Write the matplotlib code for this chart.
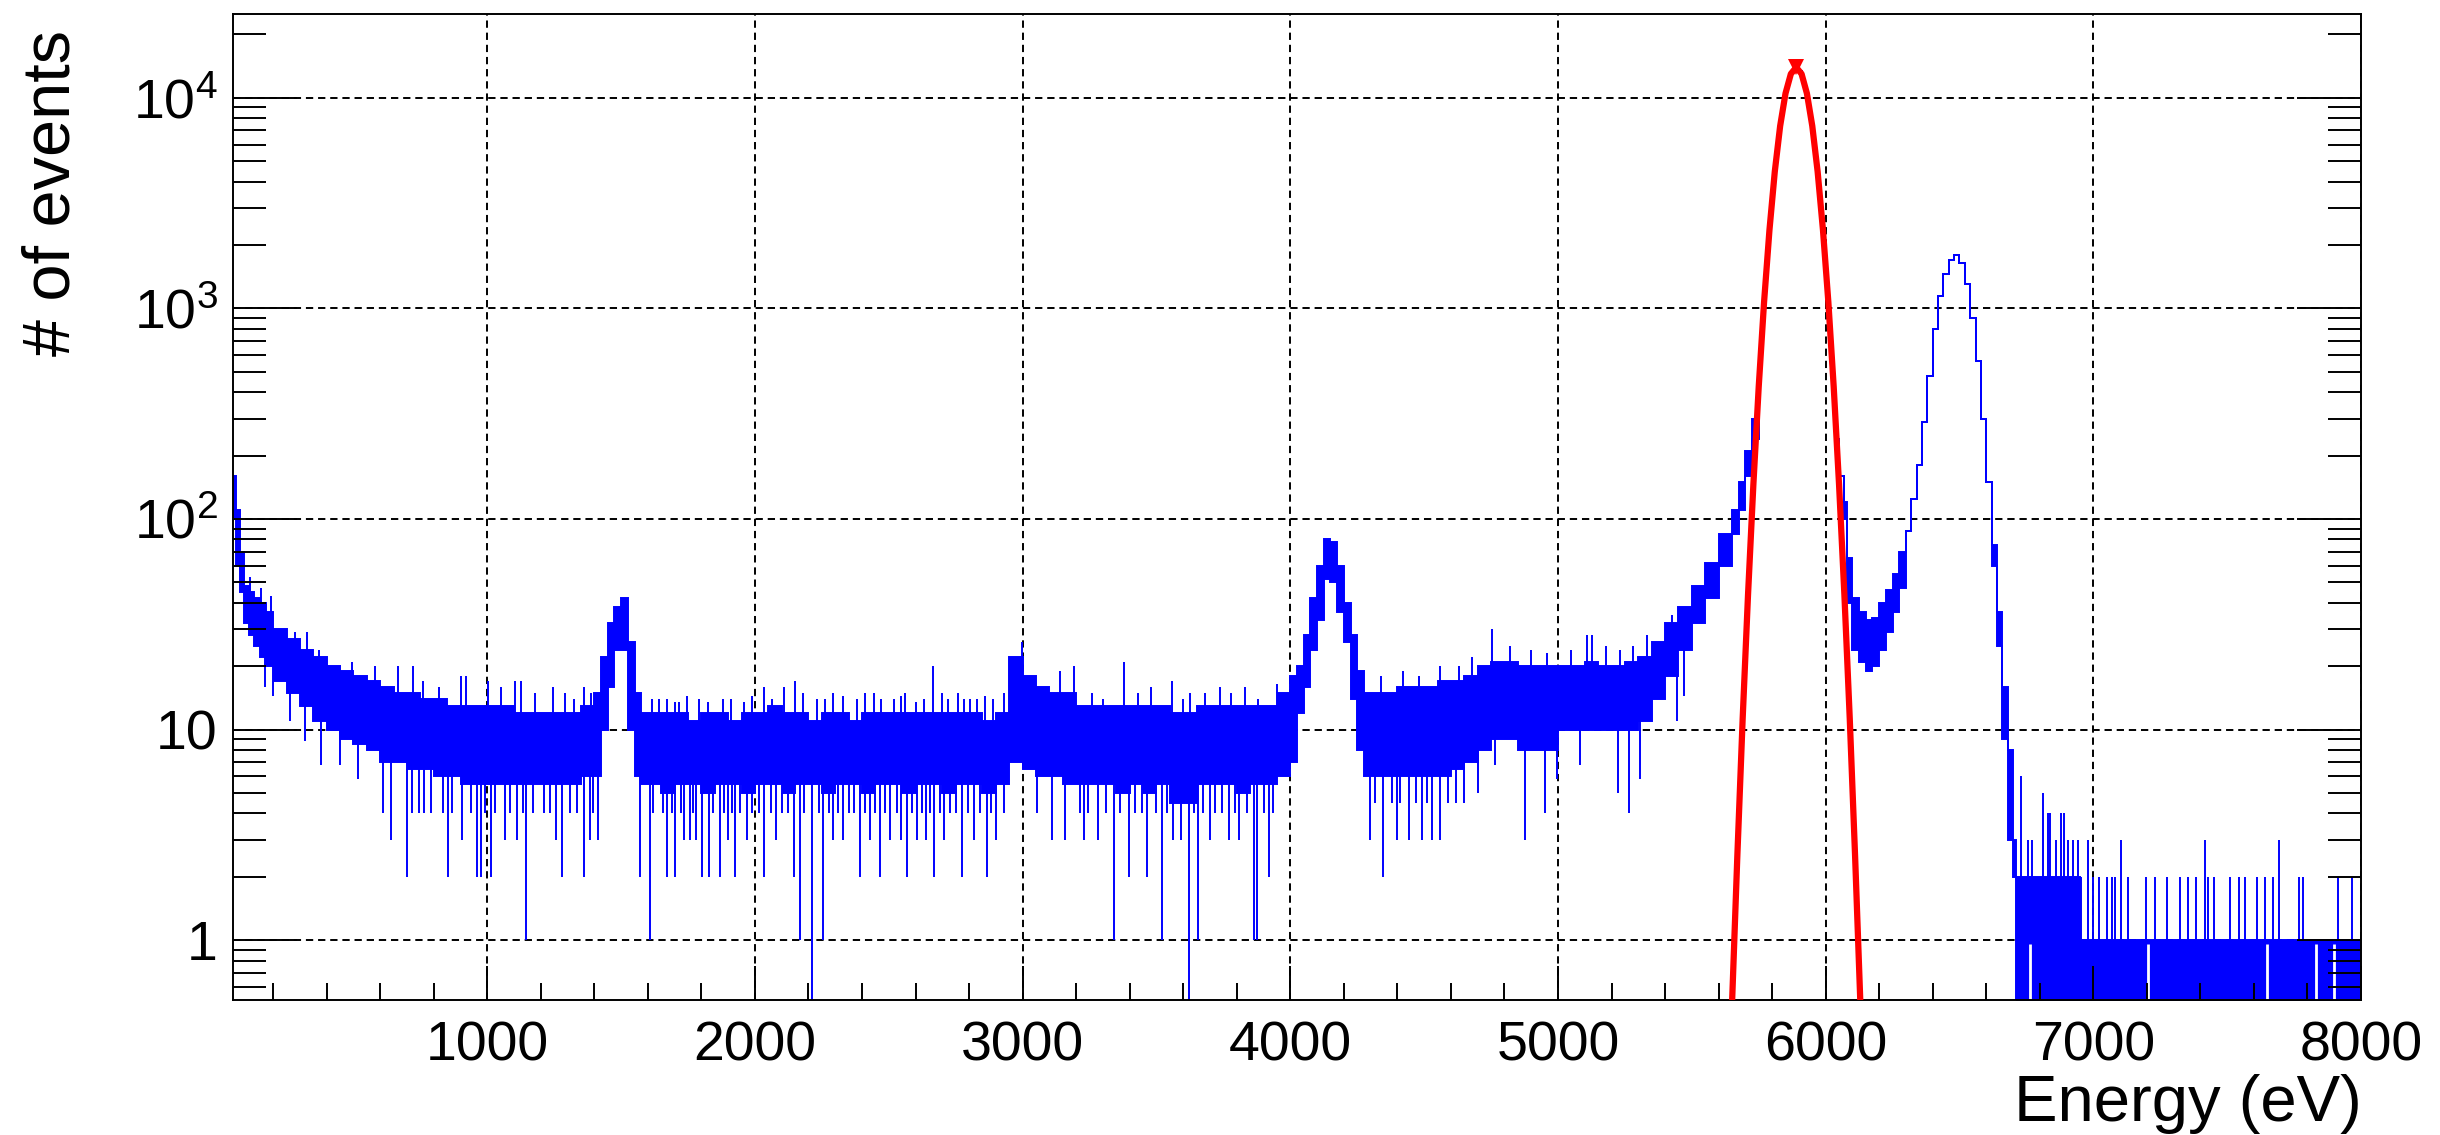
import numpy as np
import matplotlib.pyplot as plt
from matplotlib.ticker import NullFormatter

plt.rcParams['font.family'] = ['Liberation Sans', 'DejaVu Sans']
plt.rcParams['mathtext.fontset'] = 'custom'
plt.rcParams['mathtext.rm'] = 'Liberation Sans'
plt.rcParams['mathtext.it'] = 'Liberation Sans:italic'
plt.rcParams['mathtext.bf'] = 'Liberation Sans:bold'

# ---- data ----
# bin edges (eV), finer binning around the peaks
bin_edges = ([50, 60, 75, 90, 110, 130, 150, 175]
             + list(range(200, 1400, 50))
             + list(range(1400, 1600, 25))
             + list(range(1600, 4000, 50))
             + list(range(4000, 4300, 25))
             + list(range(4300, 5650, 50))
             + list(range(5650, 5750, 25))
             + list(range(5750, 6050, 10))
             + [6050, 6070, 6080]
             + list(range(6100, 6300, 25))
             + list(range(6300, 6700, 20))
             + [6700, 6712, 6750, 6950, 8000])

# upper edge of the noise band in each bin (counts)
counts_high = [160, 110, 70, 48, 45, 42, 40, 36,
               30, 27, 24, 22, 20, 19, 18, 17, 16, 15, 15, 14, 14, 13, 13, 13,
               13, 13, 12, 12, 12, 12, 12, 13,
               15, 22, 32, 38, 42, 26, 15, 12,
               12, 12, 12, 11, 12, 12, 11, 12, 12, 13, 12, 12, 11, 12, 12, 11,
               12, 12, 12, 12, 12, 12, 12, 12, 12, 11, 12,
               22, 18, 16, 15, 15, 13, 13, 13, 13, 13, 13, 13, 12, 12, 13, 13,
               13, 13, 13, 13, 15,
               18, 20, 28, 42, 60, 80, 78, 60, 40, 28, 19, 15,
               15, 15, 16, 16, 16, 17, 17, 18, 20, 21, 21, 20, 20, 20, 20, 20,
               21, 20, 20, 21, 22, 26, 32, 38, 48, 62, 85,
               110, 150, 210, 300,
               544, 865, 1325, 1960, 2800, 3860, 5130, 6580, 8140, 9730,
               11200, 12500, 13400, 13900, 13900, 13400, 12500, 11200, 9730, 8140,
               6580, 5130, 3860, 2800, 1960, 1325, 865, 544, 360, 240,
               160, 120, 65,
               42, 36, 33, 34, 40, 46, 55, 70,
               88, 125, 180, 290, 480, 800, 1150, 1450, 1700, 1800, 1650, 1300,
               900, 560, 300, 150, 75, 36, 16, 8,
               3, 2, 2, 1]

# lower edge of the noise band in each bin (counts, 0 = empty bins)
counts_low = [100, 60, 45, 32, 28, 25, 22, 20,
              17, 15, 13, 11, 10, 9, 8.5, 8, 7, 7, 6.5, 6.5, 6, 6, 5.5, 5.5,
              5.5, 5.5, 5.5, 5.5, 5.5, 5.5, 5.5, 6,
              6, 10, 16, 24, 24, 10, 6, 5.5,
              5.5, 5, 5.5, 5.5, 5, 5.5, 5.5, 5, 5.5, 5.5, 5, 5.5, 5.5, 5,
              5.5, 5.5, 5, 5.5, 5.5, 5, 5.5, 5.5, 5, 5.5, 5.5, 5, 5.5,
              7, 6.5, 6, 6, 5.5, 5.5, 5.5, 5.5, 5, 5.5, 5, 5.5, 4.5, 4.5,
              5.5, 5.5, 5.5, 5, 5.5, 5.5, 6,
              7, 12, 16, 24, 33, 52, 50, 36, 26, 14, 8, 6,
              6, 6, 6, 6, 6, 6, 6.5, 7, 8, 9, 9, 8, 8, 8, 10, 10,
              10, 10, 10, 10, 11, 14, 18, 24, 32, 42, 60,
              85, 110, 160, 240,
              544, 865, 1325, 1960, 2800, 3860, 5130, 6580, 8140, 9730,
              11200, 12500, 13400, 13900, 13900, 13400, 12500, 11200, 9730, 8140,
              6580, 5130, 3860, 2800, 1960, 1325, 865, 544, 360, 240,
              160, 100, 40,
              24, 21, 19, 20, 24, 29, 36, 47,
              88, 125, 180, 290, 480, 800, 1150, 1450, 1700, 1800, 1650, 1300,
              900, 560, 300, 150, 60, 25, 9, 3,
              2, 0, 0, 0]

# single bins sticking out above the band
spike_energy = [115, 153, 193, 280, 328, 370, 495, 579, 666, 722, 760, 820,
                900, 922, 1002, 1050, 1102, 1127, 1180, 1245, 1290, 1324, 1360, 1388,
                1615, 1640, 1671, 1700, 1715, 1745, 1790, 1825, 1880, 1910, 1960,
                1990, 2035, 2065, 2107, 2151, 2180, 2230, 2260, 2290, 2330, 2380,
                2410, 2443, 2470, 2520, 2545, 2561, 2600, 2630, 2665, 2700, 2720,
                2760, 2780, 2804, 2829, 2860, 2890, 2930,
                2998, 3141, 3191, 3260, 3300, 3377, 3430, 3480, 3558, 3600, 3626,
                3680, 3738, 3780, 3832, 3880, 3950,
                4340, 4420, 4480, 4560, 4629, 4680, 4753, 4820, 4900, 4960, 5050,
                5108, 5127, 5180, 5230, 5280, 5332, 5426,
                6731, 6757, 6770, 6812, 6830, 6840, 6860, 6878, 6891, 6905, 6925,
                6942, 6955, 6981,
                7000, 7020, 7050, 7070, 7080, 7103, 7130, 7195, 7230, 7275, 7325,
                7355, 7385, 7417,
                7430, 7450, 7510, 7545, 7565, 7612, 7640, 7670, 7692, 7770, 7785,
                7915, 7965]
spike_top = [53, 47, 43, 29, 29, 24, 21, 20, 20, 20, 17, 16,
             18, 18, 17, 16, 17, 17, 15, 16, 15, 14, 16, 15,
             14, 14, 14, 13.5, 13.5, 14.5, 14, 13.5, 14, 14, 13.5,
             14.5, 16, 14, 16, 17, 15, 14, 14, 15, 14.5, 14,
             15, 15, 14, 14, 14.5, 15, 13.5, 14, 20, 15, 14,
             15, 14, 14, 14, 14.5, 14, 15,
             26, 19, 20, 15, 14, 21, 15, 16, 17, 14, 15,
             15, 16, 15, 16, 14, 16.5,
             18, 19, 18, 20, 20, 22, 30, 25, 24, 23, 24,
             28, 28, 25, 24, 25, 28, 35,
             6, 3, 3, 5, 4, 4, 3, 4, 4, 3, 3,
             3, 2, 3,
             2, 2, 2, 2, 2, 3, 2, 2, 2, 2, 2,
             2, 2, 3,
             2, 2, 2, 2, 2, 2, 2, 2, 3, 2, 2,
             2, 2]

# single bins dropping below the band (0 = empty bin)
dip_energy = [168, 200, 262, 318, 378, 448, 517, 610, 639, 701, 763, 853,
              905, 960, 975, 1015, 1065, 1112, 1146, 1258, 1279, 1361, 1382, 1413,
              720, 745, 790, 835, 870, 940, 990, 1030, 1085, 1135, 1170, 1210,
              1235, 1310, 1335, 1395,
              1572, 1609, 1671, 1702, 1735, 1758, 1780, 1802, 1827, 1871, 1900,
              1927, 1971, 2032, 2080, 2144, 2169, 2213, 2256, 2293, 2330, 2393,
              2430, 2468, 2505, 2546, 2568, 2605, 2640, 2667, 2705, 2773, 2820,
              2867, 2902,
              1620, 1655, 1690, 1725, 1770, 1845, 1885, 1915, 1945, 1990, 2015,
              2060, 2100, 2125, 2185, 2240, 2275, 2310, 2350, 2370, 2410, 2450,
              2485, 2530, 2585, 2625, 2655, 2690, 2730, 2750, 2795, 2840, 2880,
              2930,
              3054, 3110, 3160, 3230, 3280, 3340, 3396, 3464, 3520, 3560, 3590,
              3623, 3657, 3701, 3770, 3810, 3863, 3875, 3919, 4299, 4348, 4398,
              3215, 3245, 3310, 3365, 3420, 3445, 3500, 3540, 3640, 3675, 3720,
              3745, 3795, 3840, 3900, 3935,
              4315, 4380, 4410, 4470, 4510, 4590, 4620, 4650, 4700,
              4442, 4492, 4529, 4560, 4766, 4878, 4953, 4996, 5083, 5226, 5264,
              5307, 5444, 5469]
dip_bottom = [16, 14.5, 11, 8.8, 6.8, 6.8, 5.8, 4, 3, 2, 4, 2,
              3, 2, 2, 2, 3, 3, 1, 3, 2, 2, 3, 3,
              4, 4, 4, 4, 4, 4, 4, 4, 4, 4, 4, 4,
              4, 4, 4, 4,
              2, 1, 2, 2, 3, 3, 3, 2, 2, 2, 3,
              2, 3, 2, 3, 2, 1, 0, 1, 3, 3, 2,
              3, 2, 3, 3, 2, 3, 3, 2, 3, 2, 3,
              2, 3,
              4, 4, 4, 4, 4, 4, 4, 4, 4, 4, 4,
              4, 4, 4, 4, 4, 4, 4, 4, 4, 4, 4,
              4, 4, 4, 4, 4, 4, 4, 4, 4, 4, 4,
              4,
              4, 3, 3, 3, 3, 1, 2, 2, 1, 3, 3,
              0, 1, 3, 3, 3, 1, 1, 2, 3, 2, 3,
              4, 4, 4, 4, 4, 4, 4, 4, 4, 4, 4,
              4, 4, 4, 4, 4,
              4.5, 4.5, 4.5, 4.5, 4.5, 4.5, 4.5, 4.5, 5,
              3, 3, 3, 3, 6.8, 3, 4, 5.8, 6.8, 5, 4,
              5.8, 11, 14.5]

# places in the tail where no bin is empty
full_energy = [6765, 7205, 7647, 7833, 7900]

# gaussian fit drawn in red
fit_energy = [5650, 5670, 5690, 5710, 5730, 5750, 5770, 5790, 5810, 5830, 5850,
              5870, 5890, 5910, 5930, 5950, 5970, 5990, 6010, 6030, 6050, 6070,
              6090, 6110, 6130]
fit_counts = [0.49, 2.5, 11.3, 43.7, 146, 426, 1075, 2352, 4466, 7350, 10490,
              12990, 13950, 12990, 10490, 7350, 4466, 2352, 1075, 426, 146, 43.7,
              11.3, 2.5, 0.49]

x_major = [1000, 2000, 3000, 4000, 5000, 6000, 7000, 8000]
y_major = [1, 10, 100, 1000, 10000]
y_labels = ['1', '10', r'$\mathregular{10^{2}}$', r'$\mathregular{10^{3}}$',
            r'$\mathregular{10^{4}}$']

# ---- plot ----
FLOOR = 0.3
edges = np.array(bin_edges, dtype=float)
hi = np.clip(np.array(counts_high, dtype=float), FLOOR, None)
lo = np.clip(np.array(counts_low, dtype=float), FLOOR, None)
assert len(hi) == len(lo) == len(edges) - 1
assert len(spike_energy) == len(spike_top)
assert len(dip_energy) == len(dip_bottom)


def band_at(energy, arr):
    idx = np.searchsorted(edges, energy, side='right') - 1
    return arr[np.clip(idx, 0, len(arr) - 1)]


fig = plt.figure(figsize=(24.4, 11.35), dpi=100)
ax = fig.add_axes([233 / 2440, 135 / 1135, 2128 / 2440, 986 / 1135])
ax.set_yscale('log')
ax.set_xlim(50, 8000)
ax.set_ylim(0.52, 2.5e4)

grid_style = dict(color='black', lw=1.4, ls=(0, (3.75, 2.5)), zorder=0.5)
for xv in x_major:
    ax.axvline(xv, **grid_style)
for yv in y_major:
    ax.axhline(yv, **grid_style)

blue = '#0000ff'
ax.fill_between(edges, np.append(lo, lo[-1]), np.append(hi, hi[-1]),
                step='post', color=blue, lw=0, zorder=2)
ax.stairs(hi, edges, baseline=None, color=blue, lw=1.4, zorder=2)
ax.stairs(lo, edges, baseline=None, color=blue, lw=1.4, zorder=2)

se = np.array(spike_energy, dtype=float)
ax.vlines(se, band_at(se, hi), spike_top, color=blue, lw=1.4, zorder=2)
de = np.array(dip_energy, dtype=float)
ax.vlines(de, np.clip(dip_bottom, FLOOR, None), band_at(de, lo),
          color=blue, lw=1.4, zorder=2)
ax.vlines(full_energy, FLOOR, 0.96, color='white', lw=2, zorder=2.1)

ax.plot(fit_energy, fit_counts, color='red', lw=4.5, zorder=3)
top = int(np.argmax(fit_counts))
ax.plot(fit_energy[top], fit_counts[top], marker='v', ms=12, color='red',
        mew=0, zorder=4)

ax.set_axisbelow(False)
ax.set_xticks(x_major, [str(v) for v in x_major])
ax.set_xticks([e for e in range(200, 8000, 200) if e % 1000], minor=True)
ax.set_yticks(y_major, y_labels)
y_minor = [0.6, 0.7, 0.8, 0.9] + [m * 10 ** k for k in range(4) for m in range(2, 10)] + [20000]
ax.set_yticks(y_minor, minor=True)
ax.yaxis.set_minor_formatter(NullFormatter())

ax.tick_params(axis='x', which='major', direction='in', length=24.5, width=1.4,
               top=False, pad=15, labelsize=40)
ax.tick_params(axis='x', which='minor', direction='in', length=12, width=1.4, top=False)
ax.tick_params(axis='y', which='major', direction='in', length=46, width=1.4,
               left=True, right=True, pad=11, labelsize=40)
ax.tick_params(axis='y', which='minor', direction='in', length=24, width=1.4,
               left=True, right=True)
for sp in ax.spines.values():
    sp.set_linewidth(1.4)

fig.text(22 / 2440, 1 - 30 / 1135, '# of events', rotation=90, ha='left', va='top',
         fontsize=48)
fig.text(2362 / 2440, 1 - 1121 / 1135, 'Energy (eV)', ha='right', va='baseline',
         fontsize=47)

fig.savefig('out.png', dpi=100)
